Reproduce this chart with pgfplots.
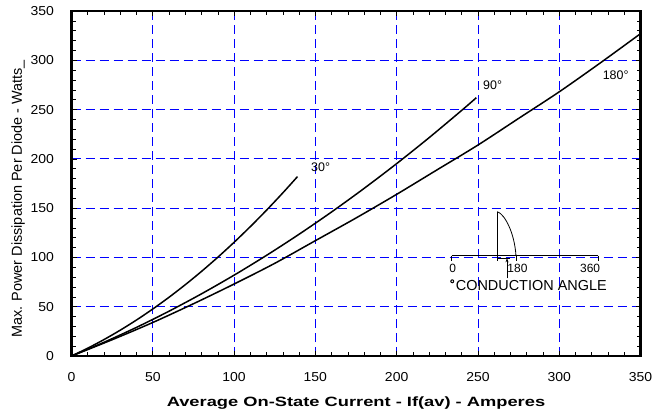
\documentclass[border=0pt]{standalone}
\usepackage{pgfplots}
\pgfplotsset{compat=1.18}
\usepackage{fontspec}
\setmainfont{Liberation Sans}
\newfontfamily\widefont[FakeStretch=1.36]{Liberation Sans}
\newfontfamily\tickfont[FakeStretch=1.08]{Liberation Sans}
\newfontfamily\ylabfont{Liberation Sans}
\usetikzlibrary{calc,arrows.meta}
\definecolor{gridblue}{RGB}{0,0,255}
\begin{document}
\begin{tikzpicture}
\begin{axis}[
  name=ax,
  scale only axis,
  width=569bp, height=345bp,
  xmin=0, xmax=350, ymin=0, ymax=350,
  xtick={0,50,...,350}, ytick={0,50,...,350},
  minor x tick num=4, minor y tick num=4,
  tick align=inside,
  major tick length=5bp, minor tick length=4bp,
  tick style={black, line width=0.6bp},
  axis line style={line width=2.6bp},
  grid=major,
  major grid style={gridblue, line width=0.8bp, dash pattern=on 9bp off 5bp},
  /pgf/number format/assume math mode=true,
  ticklabel style={font=\tickfont\fontsize{13}{15}\selectfont},
  xticklabel style={yshift=-13bp},
  yticklabel style={xshift=-14bp},
  xlabel={\textbf{Average On-State Current - If(av) - Amperes}},
  ylabel={\ylabfont\fontsize{14.5}{16}\selectfont Max. Power Dissipation Per Diode - Watts\_},
  xlabel style={font=\widefont\fontsize{13.5}{15}\selectfont, yshift=-8bp},
  ylabel style={at={(ticklabel cs:0.455)}, yshift=-1bp},
  clip=false,
]
% 30 deg
\addplot[black, line width=1.5bp, smooth] coordinates {
(0,0) (10,7.94) (20,16.67) (30,26.21) (40,36.54) (50,47.68) (60,59.61)
(70,72.34) (80,85.87) (90,100.20) (100,115.33) (110,131.26) (120,147.98)
(130,165.51) (139,181.97)};
% 90 deg
\addplot[black, line width=1.5bp, smooth] coordinates {
(0,0) (20,13.91) (40,29.06) (60,45.46) (80,63.11) (100,82.0) (120,102.14)
(140,123.53) (160,146.15) (180,170.04) (200,195.16) (220,221.53)
(240,249.15) (249,261.99)};
% 180 deg
\addplot[black, line width=1.5bp, smooth] coordinates {
(0,0) (25,16.5) (50,34) (75,53) (100,73) (125,94) (150,117) (175,140)
(200,164) (225,189) (250,214) (275,241) (300,268) (325,297) (350,327)};
\node[anchor=west, font=\fontsize{12.5}{14}\selectfont, inner sep=0pt] at (axis cs:147.3,191.5) {30°};
\node[anchor=west, font=\fontsize{12.5}{14}\selectfont, inner sep=0pt] at (axis cs:253.1,275) {90°};
\node[anchor=west, font=\fontsize{12.5}{14}\selectfont, inner sep=0pt] at (axis cs:326.7,285) {180°};
% inset
\draw[black, line width=1bp] (axis cs:233.9,101.8) -- (axis cs:324.0,101.8);
\draw[black, line width=0.8bp] (axis cs:233.9,101.8) -- (axis cs:233.9,96.4);
\draw[black, line width=0.8bp] (axis cs:324.0,101.8) -- (axis cs:324.0,96.4);
\draw[black, line width=0.8bp] (axis cs:261.9,96.4) -- (axis cs:261.9,146.4);
\draw[black, line width=0.8bp] (axis cs:273.4,96.4) -- (axis cs:273.4,101.8);
\draw[black, line width=0.8bp] (axis cs:261.9,146.4) .. controls (axis cs:266.5,144) and (axis cs:272.5,125) .. (axis cs:273.4,101.8);
\draw[black, line width=0.8bp] (axis cs:261.9,99.1) -- (axis cs:270,99.1);
\draw[black, line width=0.8bp, -{Stealth[length=4bp,width=3bp]}] (axis cs:267.9,78.8) -- (axis cs:267.9,99.1);
\node[font=\fontsize{12}{13}\selectfont, inner sep=0pt] at (axis cs:234.5,89) {0};
\node[font=\fontsize{12}{13}\selectfont, inner sep=0pt] at (axis cs:274.3,89) {180};
\node[font=\fontsize{12}{13}\selectfont, inner sep=0pt] at (axis cs:319,89) {360};
\node[anchor=west, font=\fontsize{14.5}{16}\selectfont, inner sep=0pt] at (axis cs:236.3,72) {CONDUCTION ANGLE};
\fill[black] (axis cs:234.2,75.8) circle (2bp);
\fill[white] (axis cs:234.2,75.8) circle (0.8bp);
\end{axis}
\pgfresetboundingbox
\path ($(ax.south west)+(-71.5bp,-64bp)$) rectangle ($(ax.north east)+(11.5bp,11bp)$);
\end{tikzpicture}
\end{document}
